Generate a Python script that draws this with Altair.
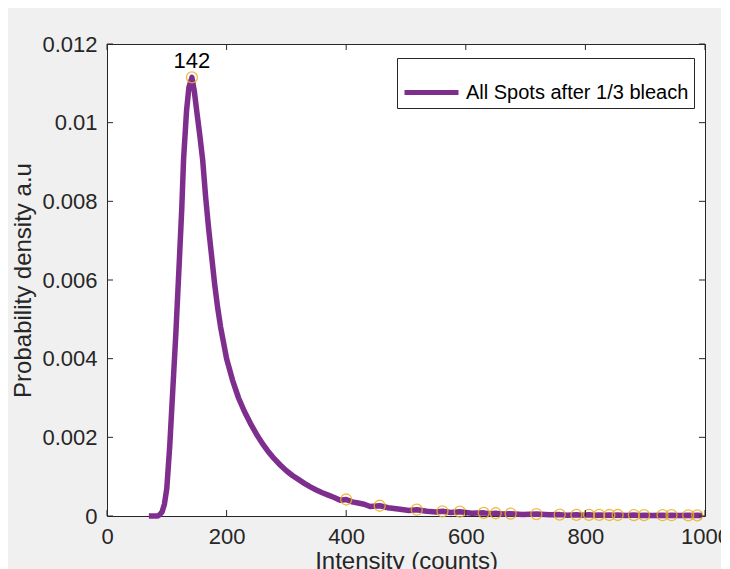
import altair as alt
import pandas as pd

# ---- data ----
intensity = [70, 75, 80, 85, 88, 92, 96, 100, 105, 110, 115, 121, 125, 128, 133, 137, 142,
             146, 150, 155, 160, 165, 170, 175, 180, 185, 190, 195, 200, 210, 220, 230, 240,
             250, 260, 270,
             280, 290, 300, 310, 320, 330, 340, 350, 360, 370, 380, 390, 400, 410, 420, 430,
             440, 456, 470, 490, 505, 518, 535, 550, 561, 575, 590, 610, 630, 640, 650, 662,
             675, 695, 718, 740, 757, 770, 785, 795, 806, 815, 823, 832, 840, 847, 854, 868,
             881, 890, 898, 912, 929, 937, 944, 958, 972, 980, 987, 995]
density = [0, 0, 0, 0, 0.00003, 0.0001, 0.0003, 0.0007, 0.0018, 0.0032, 0.0046, 0.0065,
           0.0078, 0.00905, 0.0103, 0.0109, 0.01115,
           0.0108, 0.0103, 0.0097, 0.00905, 0.0081, 0.0073, 0.0066, 0.0059, 0.0053, 0.0048,
           0.0044, 0.0040, 0.00345, 0.0030, 0.00265, 0.00235,
           0.00208, 0.00184, 0.00163,
           0.00145, 0.00129, 0.00115, 0.00103, 0.00093, 0.00083, 0.00074, 0.00066, 0.00059,
           0.00053, 0.00047, 0.00040, 0.00042, 0.00036, 0.00033, 0.00030,
           0.00024, 0.00026, 0.00021, 0.00017, 0.00014, 0.00016, 0.00012, 0.00010, 0.00012,
           0.00009, 0.00011, 0.00007, 0.00008, 0.00006, 0.00007, 0.00005,
           0.00006, 0.00004, 0.00005, 0.00003, 0.000035, 0.00002, 0.00003, 0.00002, 0.00003,
           0.00002, 0.000028, 0.000018, 0.000026, 0.000017, 0.000025, 0.000015,
           0.000024, 0.000015, 0.000022, 0.000013, 0.00002, 0.000013, 0.00002, 0.000012,
           0.000018, 0.000011, 0.000017, 0.00001]

peak_x = [142, 400, 456, 518, 561, 590, 630, 650, 675, 718, 757, 785, 806, 823, 840, 854,
          881, 898, 929, 944, 972, 987]
peak_y = [0.01115, 0.00042, 0.00026, 0.00016, 0.00012, 0.00011, 0.00008, 0.00007, 0.00006,
          0.00005, 0.000035, 0.00003, 0.00003, 0.000028, 0.000026, 0.000025,
          0.000024, 0.000022, 0.00002, 0.00002, 0.000018, 0.000017]

label_x = [142]
label_y = [0.01115]
label_text = ["142"]

series_name = "All Spots after 1/3 bleach"
x_ticks = [0, 200, 400, 600, 800, 1000]
y_ticks = [0, 0.002, 0.004, 0.006, 0.008, 0.01, 0.012]

W, H = 598, 472
FONT = "Liberation Sans"
AX = "#262626"

curve = pd.DataFrame({"x": intensity, "y": density, "s": series_name})
peaks = pd.DataFrame({"x": peak_x, "y": peak_y})
labels = pd.DataFrame({"x": label_x, "y": label_y, "t": label_text})
xt = pd.DataFrame({"v": x_ticks})
yt = pd.DataFrame({"v": y_ticks})

xs = alt.Scale(domain=[0, 1000], nice=False, zero=False)
ys = alt.Scale(domain=[0, 0.012], nice=False)

x_axis = alt.Axis(values=x_ticks, ticks=False, tickSize=0, domain=False, grid=False,
                  format="d", labelFlush=False,
                  labelFontSize=22, labelColor=AX, labelFont=FONT, labelPadding=10,
                  titleFontSize=24, titleColor=AX, titleFont=FONT, titleFontWeight="normal",
                  titlePadding=2)
y_axis = alt.Axis(values=y_ticks, ticks=False, tickSize=0, domain=False, grid=False,
                  format="~g", labelFlush=False,
                  labelFontSize=22, labelColor=AX, labelFont=FONT, labelPadding=10,
                  titleFontSize=24, titleColor=AX, titleFont=FONT, titleFontWeight="normal",
                  titlePadding=6)

line = alt.Chart(curve).mark_line(strokeWidth=5.5, strokeJoin="round").encode(
    x=alt.X("x:Q", scale=xs, axis=x_axis, title="Intensity (counts)"),
    y=alt.Y("y:Q", scale=ys, axis=y_axis, title="Probability density a.u"),
    color=alt.Color("s:N", scale=alt.Scale(domain=[series_name], range=["#7E2F8E"]),
                    legend=alt.Legend(title=None, orient="none", legendX=290, legendY=14,
                                      fillColor="white", strokeColor=AX, padding=5,
                                      labelFontSize=20, labelFont=FONT, labelColor="black",
                                      labelLimit=500,
                                      symbolType="stroke", symbolSize=2916,
                                      symbolStrokeWidth=5, labelOffset=5)),
)

marks = alt.Chart(peaks).mark_point(shape="circle", filled=False, size=121,
                                    stroke="#EDB120", strokeWidth=1.3, opacity=0.85).encode(
    x=alt.X("x:Q", scale=xs),
    y=alt.Y("y:Q", scale=ys),
)

txt = alt.Chart(labels).mark_text(fontSize=22, font=FONT, color="black",
                                  baseline="bottom", dy=-4).encode(
    x=alt.X("x:Q", scale=xs),
    y=alt.Y("y:Q", scale=ys),
    text="t:N",
)

tick_style = dict(color=AX, strokeWidth=1)
xb = alt.Chart(xt).mark_rule(**tick_style).encode(x=alt.X("v:Q", scale=xs), y=alt.value(H), y2=alt.value(H - 6))
xtop = alt.Chart(xt).mark_rule(**tick_style).encode(x=alt.X("v:Q", scale=xs), y=alt.value(0), y2=alt.value(6))
yl = alt.Chart(yt).mark_rule(**tick_style).encode(y=alt.Y("v:Q", scale=ys), x=alt.value(0), x2=alt.value(6))
yr = alt.Chart(yt).mark_rule(**tick_style).encode(y=alt.Y("v:Q", scale=ys), x=alt.value(W), x2=alt.value(W - 6))

chart = alt.layer(line, marks, txt, xb, xtop, yl, yr).properties(
    width=W, height=H,
    autosize=alt.AutoSizeParams(type="none"),
    padding={"left": 99, "top": 36, "right": 16, "bottom": 53},
    background="#F0F0F0",
).configure_view(
    fill="white", stroke=AX, strokeWidth=1,
)

chart.save("out.html", embed_options={"renderer": "svg", "actions": False})
